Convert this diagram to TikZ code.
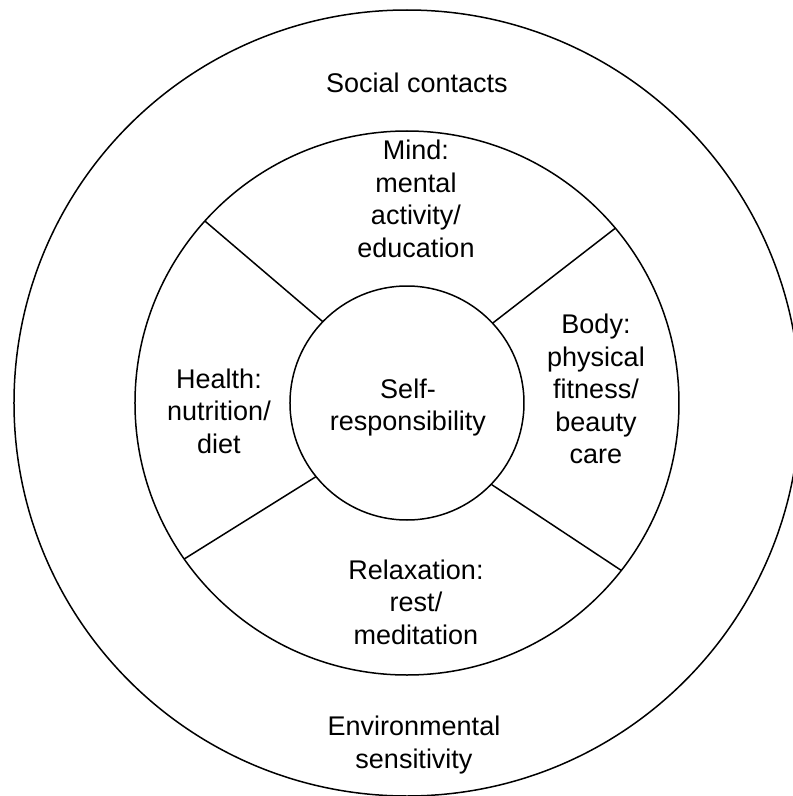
\documentclass[tikz,border=0pt]{standalone}
\usepackage{fontspec}
\setmainfont{Liberation Sans}
\begin{document}
\begin{tikzpicture}[x=1pt, y=1pt,
    ring/.style={draw, circle, line width=1.5pt, inner sep=0pt, outer sep=0pt},
    lbl/.style={align=center, inner sep=0pt, font=\fontsize{27}{32.6}\selectfont}]
        \def\dout{786pt}
        \def\dmid{544pt}
        \def\din{234pt}

        \useasboundingbox (-407,-393) rectangle (386,403) ;

        \node [ring, minimum size=\dout] (outer) at (0,0) {} ;
        \node [ring, minimum size=\dmid] (middle) at (0,0) {} ;
        \node [ring, minimum size=\din] (core) at (0,0) {} ;

        \draw [line width=1.5pt] (core.136) -- (middle.138) ;
        \draw [line width=1.5pt] (core.43) -- (middle.40) ;
        \draw [line width=1.5pt] (core.219) -- (middle.215) ;
        \draw [line width=1.5pt] (core.-44) -- (middle.-38) ;

        \node [lbl] (social) at (10,320) {Social contacts} ;
        \node [lbl] (mind) at (9,204) {Mind:\\mental\\activity/\\education} ;
        \node [lbl] (body) at (189,14) {Body:\\physical\\fitness/\\beauty\\care} ;
        \node [lbl] (health) at (-188,-8) {Health:\\nutrition/\\diet} ;
        \node [lbl] (self) at (1,-4.5) {Self-\\responsibility} ;
        \node [lbl] (relax) at (9,-199) {Relaxation:\\rest/\\meditation} ;
        \node [lbl] (env) at (7,-342) {Environmental\\sensitivity} ;
      \end{tikzpicture}
\end{document}
